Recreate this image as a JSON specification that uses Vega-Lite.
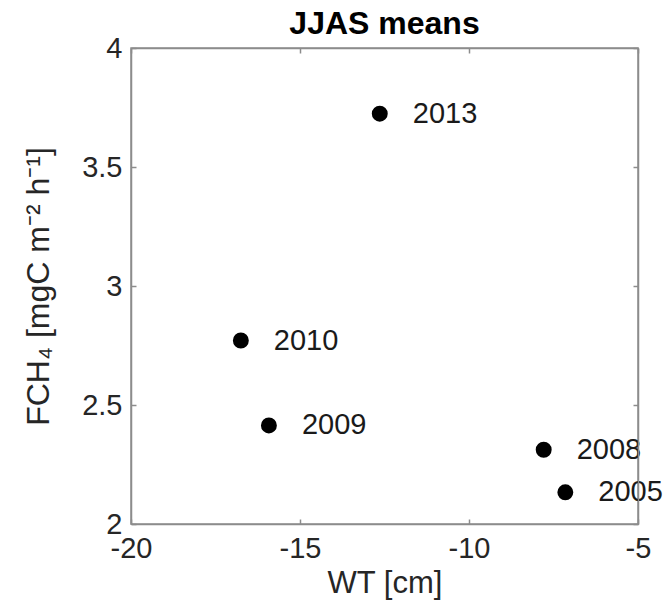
{
  "$schema": "https://vega.github.io/schema/vega-lite/v6.json",
  "width": 507,
  "height": 476,
  "autosize": "none",
  "padding": {"left": 131, "top": 48, "right": 33, "bottom": 79},
  "background": "white",
  "config": {
    "font": "Liberation Sans",
    "view": {"stroke": "#8c8c8c", "strokeWidth": 1.5}
  },
  "title": {"text": "JJAS means", "fontSize": 32, "fontWeight": "bold", "color": "#000000", "offset": -7, "anchor": "middle"},
  "data": {
    "values": [
      {"year": "2005", "wt": -7.15, "fch4": 2.133},
      {"year": "2008", "wt": -7.79, "fch4": 2.312},
      {"year": "2009", "wt": -15.92, "fch4": 2.414},
      {"year": "2010", "wt": -16.75, "fch4": 2.771},
      {"year": "2013", "wt": -12.64, "fch4": 3.724}
    ]
  },
  "layer": [
    {
      "mark": {"type": "circle", "size": 254, "color": "#000000", "opacity": 1},
      "encoding": {
        "x": {
          "field": "wt", "type": "quantitative",
          "scale": {"domain": [-20, -5], "nice": false, "zero": false},
          "axis": {
            "orient": "bottom", "values": [-20, -15, -10, -5], "grid": false,
            "labelExpr": "replace(datum.label, '−', '-')",
            "tickSize": -5, "tickColor": "#8c8c8c", "tickWidth": 1.5,
            "domainColor": "#8c8c8c", "domainWidth": 1.5,
            "labelFontSize": 29, "labelColor": "#262626", "labelPadding": 15,
            "labelFlush": false, "labelOverlap": false,
            "title": "WT [cm]", "titleFontSize": 31, "titleFontWeight": "normal",
            "titleColor": "#262626", "titlePadding": 5
          }
        },
        "y": {
          "field": "fch4", "type": "quantitative",
          "scale": {"domain": [2, 4], "nice": false, "zero": false},
          "axis": {
            "orient": "left", "values": [2, 2.5, 3, 3.5, 4], "format": "~g", "grid": false,
            "tickSize": -5, "tickColor": "#8c8c8c", "tickWidth": 1.5,
            "domainColor": "#8c8c8c", "domainWidth": 1.5,
            "labelFontSize": 29, "labelColor": "#262626", "labelPadding": 14,
            "labelFlush": false, "labelOverlap": false,
            "title": "FCH₄ [mgC m⁻² h⁻¹]", "titleFontSize": 32, "titleFontWeight": "normal",
            "titleColor": "#262626", "titlePadding": 26
          }
        }
      }
    },
    {
      "mark": {"type": "text", "align": "left", "baseline": "middle", "dx": 33, "fontSize": 29, "color": "#1a1a1a"},
      "encoding": {
        "x": {
          "field": "wt", "type": "quantitative",
          "axis": {
            "orient": "top", "values": [-20, -15, -10, -5], "grid": false, "labels": false,
            "tickSize": -5, "tickColor": "#8c8c8c", "tickWidth": 1.5,
            "domainColor": "#8c8c8c", "domainWidth": 1.5, "title": null
          }
        },
        "y": {
          "field": "fch4", "type": "quantitative",
          "axis": {
            "orient": "right", "values": [2, 2.5, 3, 3.5, 4], "grid": false, "labels": false,
            "tickSize": -5, "tickColor": "#8c8c8c", "tickWidth": 1.5,
            "domainColor": "#8c8c8c", "domainWidth": 1.5, "title": null, "zindex": 1
          }
        },
        "text": {"field": "year"}
      }
    }
  ],
  "resolve": {"axis": {"x": "independent", "y": "independent"}}
}
